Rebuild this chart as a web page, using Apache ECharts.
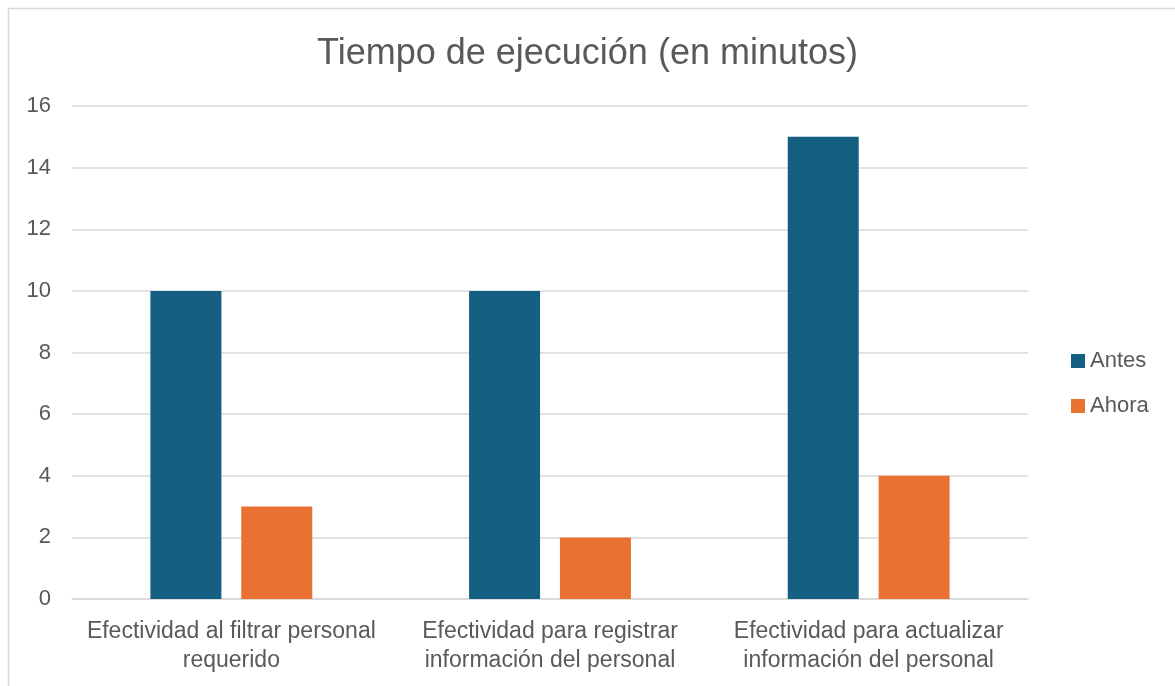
<!DOCTYPE html>
<html>
<head>
<meta charset="utf-8">
<script src="https://cdn.jsdelivr.net/npm/echarts@6/dist/echarts.min.js"></script>
<style>
html,body{margin:0;padding:0;background:#fff;}
#c{width:1175px;height:686px;}
</style>
</head>
<body>
<div id="c"></div>
<script>
const categories = [
  'Efectividad al filtrar personal\nrequerido',
  'Efectividad para registrar\ninformación del personal',
  'Efectividad para actualizar\ninformación del personal'
];
const antes = [10, 10, 15];
const ahora = [3, 2, 4];
const seriesNames = ['Antes', 'Ahora'];

const font = 'Liberation Sans, Arial, sans-serif';
const chart = echarts.init(document.getElementById('c'));
chart.setOption({
  backgroundColor: '#fff',
  animation: false,
  graphic: [{
    type: 'rect',
    shape: { x: 8.5, y: 8.5, width: 1200, height: 700 },
    style: { fill: 'none', stroke: '#d9d9d9', lineWidth: 1.5 },
    silent: true, z: -1
  }],
  title: {
    text: 'Tiempo de ejecución (en minutos)',
    left: 'center', top: 31,
    textStyle: { fontFamily: font, fontSize: 36, fontWeight: 'normal', color: '#595959' }
  },
  legend: {
    orient: 'vertical',
    left: 1066, top: 345,
    itemWidth: 14, itemHeight: 14, itemGap: 23,
    icon: 'rect',
    textStyle: { fontFamily: font, fontSize: 22, color: '#595959' },
    data: seriesNames
  },
  grid: { left: 72, right: 147, top: 106, bottom: 87 },
  xAxis: {
    type: 'category',
    data: categories,
    axisLine: { lineStyle: { color: '#d9d9d9', width: 1.5 } },
    axisTick: { show: false },
    axisLabel: { fontFamily: font, fontSize: 23, color: '#595959', lineHeight: 29, margin: 18, interval: 0 }
  },
  yAxis: {
    type: 'value',
    min: 0, max: 16, interval: 2,
    axisLine: { show: false },
    axisTick: { show: false },
    splitLine: { lineStyle: { color: '#d9d9d9', width: 1.5 } },
    axisLabel: { fontFamily: font, fontSize: 22, color: '#595959', margin: 21 }
  },
  series: [
    { name: seriesNames[0], type: 'bar', data: antes, barWidth: 71, barGap: '28%', itemStyle: { color: '#156082' } },
    { name: seriesNames[1], type: 'bar', data: ahora, barWidth: 71, barGap: '28%', itemStyle: { color: '#E97132' } }
  ]
});
</script>
</body>
</html>
